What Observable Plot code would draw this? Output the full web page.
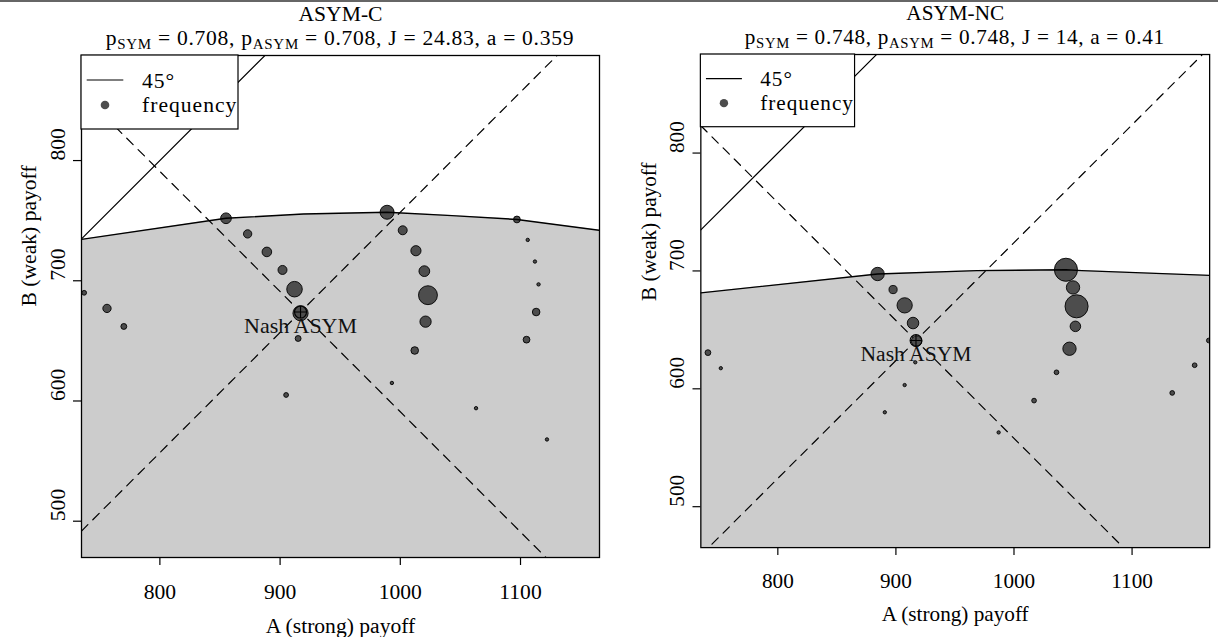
<!DOCTYPE html>
<html><head><meta charset="utf-8">
<script src="https://cdn.jsdelivr.net/npm/d3@7"></script>
<script src="https://cdn.jsdelivr.net/npm/@observablehq/plot@0.6"></script>
<style>
html,body{margin:0;padding:0;background:#fff;overflow:hidden;}
#wrap{position:relative;width:1218px;height:637px;overflow:hidden;background:#fff;}
.panel{position:absolute;top:0;}
.panel svg{overflow:visible;}
#topline{position:absolute;left:0;top:0;width:1218px;height:2px;background:#666;}
</style></head><body><div id="wrap"><div id="topline"></div></div>
<script>
// ---------- data ----------
const panelNames = ["ASYM-C", "ASYM-NC"];
const pSYM = ["0.708", "0.748"];
const pASYM = ["0.708", "0.748"];
const Jval = ["24.83", "14"];
const aVal = ["0.359", "0.41"];
const xTicks = [800, 900, 1000, 1100];
const yTicks = [500, 600, 700, 800];
const xLabel = "A (strong) payoff";
const yLabel = "B (weak) payoff";
const nashLabel = "Nash ASYM";
const legendLabels = ["45°", "frequency"];

// ASYM-C
const cPayA = [855, 873, 889, 902, 912, 917, 915, 989, 1002, 1013, 1020, 1023, 1021, 1012, 1097, 1106, 1112, 1115, 1113, 1105, 737, 756, 770, 1063, 1122, 905, 993];
const cPayB = [752, 739, 724, 709, 693, 673, 652, 757, 742, 725, 708, 688, 666, 642, 751, 734, 716, 697, 674, 651, 690, 677, 662, 594, 568, 605, 615];
const cFreq = [10, 6, 8, 7, 21, 20, 3, 17, 7, 9, 10, 31, 11, 5, 4, 1, 1, 1, 5, 4, 2, 6, 3, 1, 1, 2, 1];
const cFrontA = [734.8, 855, 919.5, 989, 1043, 1097, 1165.7];
const cFrontB = [734.4, 752, 755.6, 757, 754.2, 751, 742];
const cNash = [917, 674];

// ASYM-NC
const ncPayA = [884.5, 897.6, 907.4, 914.5, 917.5, 916.4, 907.4, 890.6, 740.8, 751.7, 1044, 1050, 1053, 1052, 1047, 1036, 1017, 987, 1134, 1153, 1165];
const ncPayB = [697.4, 684.2, 670.8, 655.8, 640.5, 622.5, 603.2, 580.1, 630.7, 617.5, 701, 686, 670, 653, 634, 614, 590, 563, 596.5, 620, 641];
const ncFreq = [16, 6, 21, 12, 10, 1, 1, 1, 3, 1, 48, 16, 48, 10, 16, 2, 2, 1, 2, 2, 2];
const ncFrontA = [734.8, 884.5, 968.5, 1044, 1057.5, 1165.7];
const ncFrontB = [681.4, 697.4, 700.3, 701, 700.3, 696.2];
const ncNash = [917, 641];

// ---------- layout ----------
const panels = [
  {left: 0, width: 609, mL: 81, mR: 10, xDomain: [734.8, 1165.7], yDomain: [469.8, 887.4],
   A: cPayA, B: cPayB, F: cFreq, fA: cFrontA, fB: cFrontB, nash: cNash},
  {left: 609, width: 620, mL: 93, mR: 9, xDomain: [734.8, 1165.7], yDomain: [465.3, 883.6],
   A: ncPayA, B: ncPayB, F: ncFreq, fA: ncFrontA, fB: ncFrontB, nash: ncNash}
];
const H = 637, mT = 55, mB = 80;
const FONT = '"Liberation Serif","Times New Roman",serif';
const FS = 21.6;

const circlePlus = {
  draw(ctx, size) {
    const r = Math.sqrt(size / Math.PI);
    ctx.moveTo(r, 0); ctx.arc(0, 0, r, 0, 2 * Math.PI);
    ctx.moveTo(-r, 0); ctx.lineTo(r, 0);
    ctx.moveTo(0, -r); ctx.lineTo(0, r);
  }
};

panels.forEach((p, i) => {
  const pts = p.A.map((a, k) => ({a, b: p.B[k], f: p.F[k]}));
  const front = p.fA.map((a, k) => ({a, b: p.fB[k]}));
  const [x0, x1] = p.xDomain, [y0] = p.yDomain;
  const [nx, ny] = p.nash;
  const diag = [{a: x0, b: x0}, {a: x1, b: x1}];
  const up = [{a: x0, b: x0 - nx + ny}, {a: x1, b: x1 - nx + ny}];
  const down = [{a: x0, b: nx + ny - x0}, {a: x1, b: nx + ny - x1}];
  const dash = "9,7";
  const chart = Plot.plot({
    width: p.width, height: H,
    marginLeft: p.mL, marginRight: p.mR, marginTop: mT, marginBottom: mB,
    x: {domain: p.xDomain},
    y: {domain: p.yDomain},
    r: {type: "sqrt", domain: [0, 48], range: [0, 11.76]},
    style: {fontFamily: FONT, fontSize: FS + "px", color: "black", background: "transparent", overflow: "visible"},
    marks: [
      Plot.areaY(front, {x: "a", y1: y0, y2: "b", fill: "#cccccc", clip: true}),
      Plot.line(diag, {x: "a", y: "b", stroke: "black", strokeWidth: 1.2, clip: true}),
      Plot.line(up, {x: "a", y: "b", stroke: "black", strokeWidth: 1.2, strokeDasharray: dash, clip: true}),
      Plot.line(down, {x: "a", y: "b", stroke: "black", strokeWidth: 1.2, strokeDasharray: dash, clip: true}),
      Plot.dot(pts, {x: "a", y: "b", r: "f", fill: "#4d4d4d", stroke: "black", strokeWidth: 0.9, clip: true}),
      Plot.line(front, {x: "a", y: "b", stroke: "black", strokeWidth: 1.4, clip: true}),
      Plot.dot([p.nash], {x: d => d[0], y: d => d[1], r: 6, symbol: circlePlus, stroke: "black", fill: "none", strokeWidth: 1.1}),
      Plot.text([p.nash], {x: d => d[0], y: d => d[1], text: () => nashLabel, dy: 21, lineAnchor: "bottom", fontSize: 22, fill: "#111", letterSpacing: "1px"}),
      Plot.frame({stroke: "black", strokeWidth: 1.3}),
      Plot.axisX(xTicks, {tickSize: 8, tickFormat: () => "", label: null, strokeWidth: 1.2}),
      Plot.axisY(yTicks, {tickSize: 8, tickFormat: () => "", label: null, strokeWidth: 1.2}),
      Plot.text(xTicks, {x: d => d, frameAnchor: "bottom", dy: 41, lineAnchor: "bottom", text: d => String(d)}),
      Plot.text(yTicks, {y: d => d, frameAnchor: "left", dx: -17, rotate: -90, lineAnchor: "bottom", text: d => String(d)}),
      Plot.text([xLabel], {frameAnchor: "bottom", dy: 75, lineAnchor: "bottom", text: d => d, letterSpacing: "1px"}),
      Plot.text([yLabel], {frameAnchor: "left", dx: -46, rotate: -90, lineAnchor: "bottom", text: d => d, letterSpacing: "1px"}),
      Plot.text([panelNames[i]], {frameAnchor: "top", dy: -35, lineAnchor: "bottom", text: d => d, letterSpacing: "1px"})
    ]
  });
  const div = document.createElement("div");
  div.className = "panel";
  div.style.left = p.left + "px";
  div.appendChild(chart);
  document.getElementById("wrap").appendChild(div);

  const svg = d3.select(chart);
  const cx = p.mL + (p.width - p.mL - p.mR) / 2;
  // subtitle with subscripts
  const t = svg.append("text").attr("x", cx).attr("y", mT - 10)
    .attr("text-anchor", "middle").attr("font-family", FONT).attr("font-size", FS)
    .attr("letter-spacing", "0.7px").attr("fill", "black");
  const sub = 15, sh = 4;
  t.append("tspan").text("p");
  t.append("tspan").attr("dy", sh).attr("font-size", sub).text("SYM");
  t.append("tspan").attr("dy", -sh).text(" = " + pSYM[i] + ", p");
  t.append("tspan").attr("dy", sh).attr("font-size", sub).text("ASYM");
  t.append("tspan").attr("dy", -sh).text(" = " + pASYM[i] + ", J = " + Jval[i] + ", a = " + aVal[i]);

  // legend
  const g = svg.append("g").attr("transform", `translate(${p.mL},${mT})`)
    .attr("font-family", FONT).attr("font-size", FS).attr("text-anchor", "start");
  g.append("rect").attr("x", 0).attr("y", 0).attr("width", 157).attr("height", 74)
    .attr("fill", "white").attr("stroke", "black").attr("stroke-width", 1.2);
  g.append("line").attr("x1", 5.7).attr("x2", 42.3).attr("y1", 25).attr("y2", 25)
    .attr("stroke", "black").attr("stroke-width", 1.2);
  g.append("text").attr("x", 61).attr("y", 32.5).attr("text-anchor", "start").attr("letter-spacing", "1px").text(legendLabels[0]);
  g.append("circle").attr("cx", 24).attr("cy", 50).attr("r", 4.3).attr("fill", "#4d4d4d");
  g.append("text").attr("x", 61).attr("y", 56.5).attr("text-anchor", "start").attr("letter-spacing", "1px").text(legendLabels[1]);
});
</script></body></html>
